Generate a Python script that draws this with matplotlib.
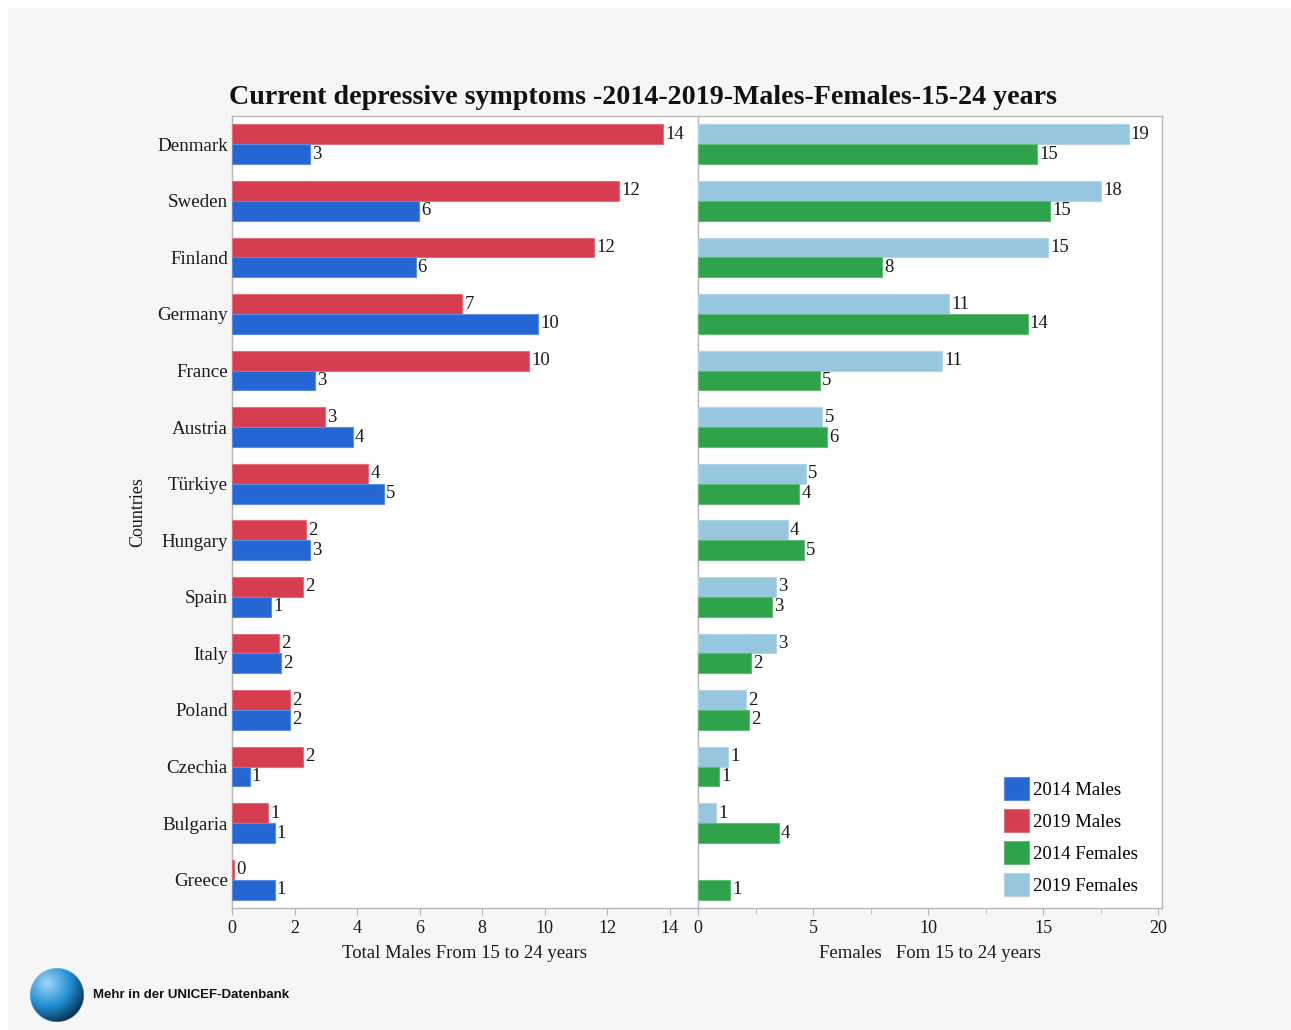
import numpy as np
import matplotlib
matplotlib.use("Agg")
import matplotlib.pyplot as plt
from matplotlib.patches import Patch, Rectangle

countries = ["Denmark", "Sweden", "Finland", "Germany", "France", "Austria", "Türkiye",
             "Hungary", "Spain", "Italy", "Poland", "Czechia", "Bulgaria", "Greece"]

males_2014 = [2.5, 5.97, 5.87, 9.78, 2.66, 3.86, 4.87, 2.5, 1.26, 1.56, 1.86, 0.56, 1.36, 1.36]
males_2019 = [13.78, 12.38, 11.58, 7.37, 9.5, 2.97, 4.36, 2.36, 2.26, 1.5, 1.86, 2.26, 1.16, 0.07]
females_2014 = [14.74, 15.32, 8.01, 14.33, 5.29, 5.61, 4.41, 4.61, 3.2, 2.3, 2.22, 0.91, 3.52, 1.41]
females_2019 = [18.72, 17.52, 15.22, 10.91, 10.61, 5.41, 4.7, 3.9, 3.41, 3.41, 2.09, 1.3, 0.8, np.nan]

male_ticks = [0, 2, 4, 6, 8, 10, 12, 14]
female_ticks = [0, 5, 10, 15, 20]

title = "Current depressive symptoms -2014-2019-Males-Females-15-24 years"
male_xlabel = "Total Males From 15 to 24 years"
female_xlabel = "Females   Fom 15 to 24 years"
legend_labels = ["2014 Males", "2019 Males", "2014 Females", "2019 Females"]

C_M14 = "#2466d3"
C_M19 = "#d63d4f"
C_F14 = "#2ea349"
C_F19 = "#97c7de"
SPINE = "#b8b8b8"
TEXT = "#1a1a1a"
SERIF = ["Liberation Serif", "DejaVu Serif"]

plt.rcParams["font.family"] = SERIF

W, H = 1291, 1030
fig = plt.figure(figsize=(W / 100, H / 100), dpi=100)
fig.patch.set_facecolor("white")
fig.add_artist(Rectangle((8 / W, 0), 1 - 8 / W, 1 - 8 / H, transform=fig.transFigure,
                         facecolor="#f6f6f6", edgecolor="none", zorder=-10))

bottom = (H - 908) / H
height = 792 / H
ax_m = fig.add_axes([232 / W, bottom, 465 / W, height])
ax_f = fig.add_axes([698 / W, bottom, 464 / W, height])

y = np.arange(len(countries))
bh = 0.35


def edge_of(col):
    rgb = np.array(matplotlib.colors.to_rgb(col))
    return matplotlib.colors.to_hex(np.clip(rgb * 0.75 + 0.25, 0, 1))


def value_text(v):
    return str(int(np.floor(v + 0.5)))


def draw_pair(ax, upper, lower, c_up, c_low):
    for vals, off, col in ((upper, -bh / 2, c_up), (lower, bh / 2, c_low)):
        vals = np.asarray(vals, dtype=float)
        mask = ~np.isnan(vals)
        ax.barh(y[mask] + off, vals[mask], height=bh, color=col,
                edgecolor=edge_of(col), linewidth=0.8, zorder=3)
        for yy, v in zip(y[mask] + off, vals[mask]):
            ax.annotate(value_text(v), (v, yy), xytext=(1.5, 0), textcoords="offset points",
                        va="center", ha="left", fontsize=13.5, color=TEXT)


draw_pair(ax_m, males_2019, males_2014, C_M19, C_M14)
draw_pair(ax_f, females_2019, females_2014, C_F19, C_F14)

for ax in (ax_m, ax_f):
    ax.set_ylim(len(countries) - 0.5, -0.5)
    ax.set_facecolor("white")
    for s in ax.spines.values():
        s.set_color(SPINE)
        s.set_linewidth(1.0)
    ax.tick_params(axis="x", colors=SPINE, labelcolor=TEXT, labelsize=13,
                   length=5, direction="out")

ax_m.set_xlim(0, 14.87)
ax_m.set_xticks(male_ticks)
ax_m.set_yticks(y)
ax_m.set_yticklabels(countries, fontsize=13.7, color=TEXT)
ax_m.tick_params(axis="y", length=0, pad=3)
ax_m.spines["right"].set_visible(False)
ax_m.set_xlabel(male_xlabel, fontsize=13.5, color=TEXT, labelpad=6)
ax_m.set_ylabel("Countries", fontsize=13, color=TEXT, labelpad=8)

ax_f.set_xlim(0, 20.17)
ax_f.set_xticks(female_ticks)
ax_f.set_xticks([2.5, 7.5, 12.5, 17.5], minor=True)
ax_f.tick_params(axis="x", which="minor", colors=SPINE, length=4)
ax_f.set_yticks([])
ax_f.set_xlabel(female_xlabel, fontsize=13.5, color=TEXT, labelpad=6)

handles = [Patch(facecolor=c, edgecolor=edge_of(c), linewidth=0.8)
           for c in (C_M14, C_M19, C_F14, C_F19)]
ax_f.legend(handles, legend_labels, loc="lower right",
            bbox_to_anchor=(1.0 - 6 / 464, -6 / 792),
            frameon=False, fontsize=13.5, handlelength=1.3, handleheight=1.55,
            handletextpad=0.25, labelspacing=0.45, borderaxespad=0.55)

fig.text(643 / W, 1 - 97 / H, title, ha="center", va="center", fontsize=20.2,
         fontweight="bold", color="#111111")

# UNICEF sphere with a radial shading
ax_s = fig.add_axes([30 / W, 1 - 1022 / H, 54 / W, 54 / H])
n = 200
gx, gy = np.meshgrid(np.linspace(-1, 1, n), np.linspace(-1, 1, n))
r = np.hypot(gx, gy)
d = np.hypot(gx + 0.35, gy + 0.45)
light = np.array([0.62, 0.85, 0.97])
mid = np.array([0.13, 0.55, 0.82])
dark = np.array([0.02, 0.16, 0.28])
t = np.clip(d / 1.6, 0, 1)[..., None]
img = np.where(t < 0.55, light + (mid - light) * (t / 0.55),
               mid + (dark - mid) * ((t - 0.55) / 0.45))
rgba = np.concatenate([img, (r <= 1)[..., None].astype(float)], axis=-1)
ax_s.imshow(rgba, origin="upper", extent=(-1, 1, -1, 1), interpolation="bilinear")
ax_s.set_xlim(-1, 1)
ax_s.set_ylim(-1, 1)
ax_s.axis("off")

fig.text(93 / W, 1 - 995 / H, "Mehr in der UNICEF-Datenbank", ha="left", va="center",
         fontsize=9.5, fontweight="bold", color="#111111",
         family=["Liberation Sans", "DejaVu Sans"])

fig.savefig("out.png", dpi=100, facecolor=fig.get_facecolor())
